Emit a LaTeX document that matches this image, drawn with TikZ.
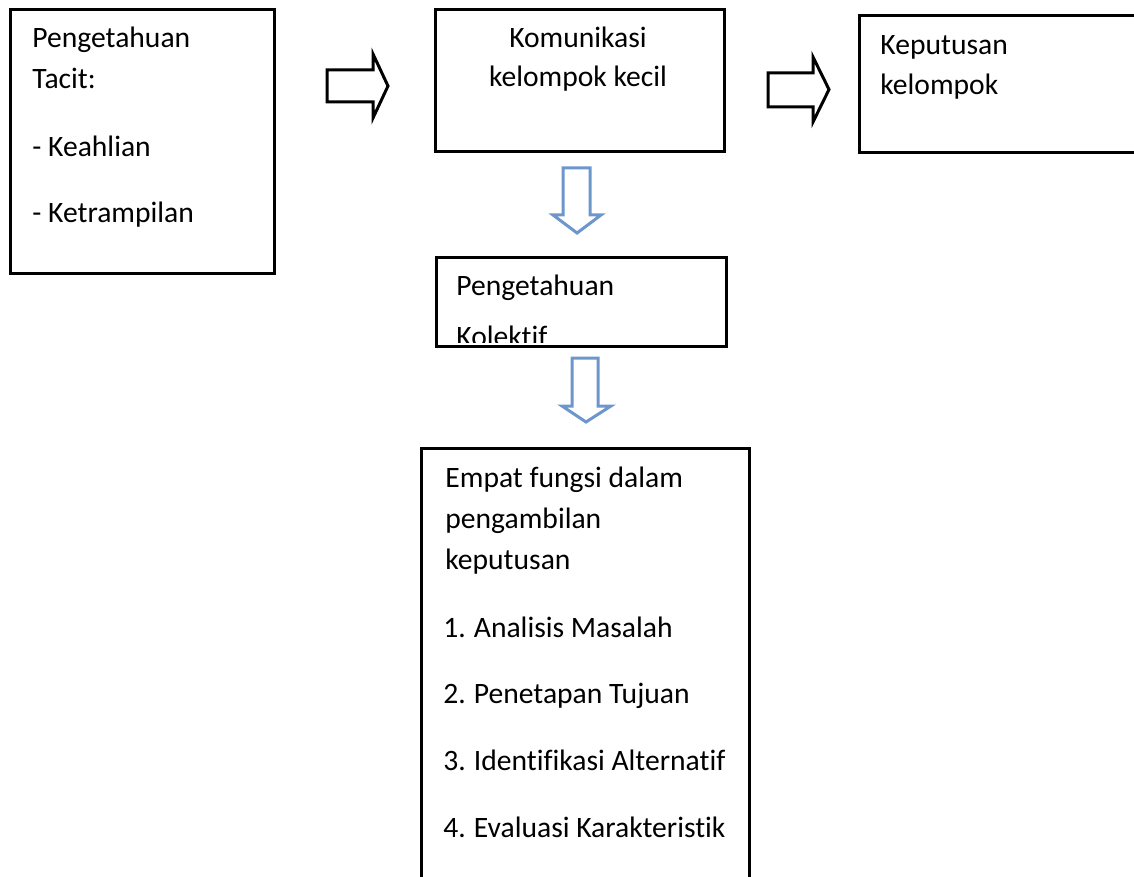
\documentclass[tikz,border=0pt]{standalone}
\usepackage{fontspec}
\setmainfont[Ligatures=NoCommon]{Carlito}
\usepackage{xcolor}
\usetikzlibrary{positioning}
\definecolor{arrowblue}{RGB}{108,150,204}
\tikzset{
    box/.style={draw, line width=1.5pt, anchor=north west, inner sep=0pt},
    txt/.style={anchor=base west, inner sep=0pt, font=\fontsize{14.8}{20}\selectfont},
    blockarrow/.style={draw, line width=1.5pt, fill=white, line join=miter},
    bluearrow/.style={draw=arrowblue, line width=1.5pt, fill=white, line join=miter}
}

\begin{document}
\begin{tikzpicture}[x=0.5pt, y=-0.5pt]
                \useasboundingbox (0, 0) rectangle (1134, 877);
                \clip (0, 0) rectangle (1134, 877);
                % boxes
                \node[box, minimum width=132pt, minimum height=132pt] (tacit) at (9, 8) {};
                \node[box, minimum width=144.5pt, minimum height=71pt] (komunikasi) at (434, 8) {};
                \node[box, minimum width=150pt, minimum height=68.5pt] (keputusan) at (858, 14) {};
                \node[box, minimum width=145pt, minimum height=44.5pt] (kolektif) at (435, 256) {};
                \node[box, minimum width=164pt, minimum height=230pt] (fungsi) at (420, 447) {};
                % texts
                \node[txt] (tacit1) at (32, 48) {Pengetahuan};
                \node[txt] (tacit2) at (32, 89) {Tacit:};
                \node[txt] (tacit3) at (32, 157) {- Keahlian};
                \node[txt] (tacit4) at (32, 223) {- Ketrampilan};
                \node[txt, anchor=base] (kom1) at (578, 48) {Komunikasi};
                \node[txt, anchor=base] (kom2) at (578, 87) {kelompok kecil};
                \node[txt] (kep1) at (880, 55) {Keputusan};
                \node[txt] (kep2) at (880, 95) {kelompok};
                \begin{scope}
                    \clip (437, 258) rectangle (722, 342);
                    \node[txt] (kol1) at (456, 295) {Pengetahuan};
                    \node[txt] (kol2) at (456, 346) {Kolektif};
                \end{scope}
                \node[txt] (fun1) at (445, 487) {Empat fungsi dalam};
                \node[txt] (fun2) at (445, 528) {pengambilan};
                \node[txt] (fun3) at (445, 569) {keputusan};
                \node[txt] (fun4) at (443, 637) {1.\hspace{4pt}Analisis Masalah};
                \node[txt] (fun5) at (443, 703) {2.\hspace{4pt}Penetapan Tujuan};
                \node[txt] (fun6) at (443, 770) {3.\hspace{4pt}Identifikasi Alternatif};
                \node[txt] (fun7) at (443, 837) {4.\hspace{4pt}Evaluasi Karakteristik};
                % block arrows
                \draw[blockarrow] (327, 70) -- (373, 70) -- (373, 54) -- (388, 86)
                    -- (373, 118) -- (373, 102) -- (327, 102) -- cycle;
                \draw[blockarrow] (768, 73) -- (813, 73) -- (813, 57) -- (829, 89.5)
                    -- (813, 122) -- (813, 107) -- (768, 107) -- cycle;
                \draw[bluearrow] (563, 168) -- (590, 168) -- (590, 215) -- (601, 215)
                    -- (577, 233) -- (553, 215) -- (563, 215) -- cycle;
                \draw[bluearrow] (572, 358) -- (598, 358) -- (598, 406) -- (611, 406)
                    -- (586, 422) -- (562, 406) -- (572, 406) -- cycle;
            \end{tikzpicture}
\end{document}
